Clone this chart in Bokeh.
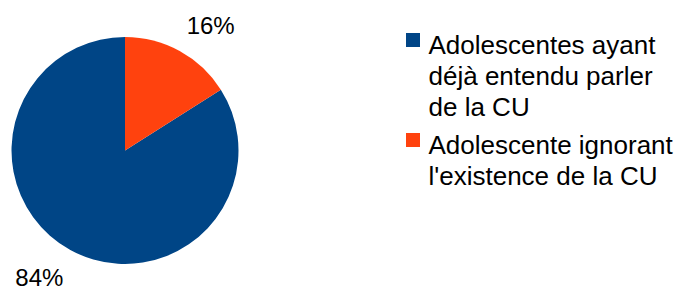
import math
from bokeh.plotting import figure
from bokeh.models import Range1d, ColumnDataSource
from bokeh.embed import file_html
from bokeh.resources import INLINE
from bokeh.core.properties import value

# ---- data ----
categories = ["Adolescentes ayant déjà entendu parler de la CU",
              "Adolescente ignorant l'existence de la CU"]
legend_lines = [["Adolescentes ayant", "déjà entendu parler", "de la CU"],
                ["Adolescente ignorant", "l'existence de la CU"]]
values = [84, 16]
colors = ["#004586", "#ff420e"]
pct_labels = ["84%", "16%"]

# ---- layout ----
W, H = 674, 287
PAGE_H = 287
p = figure(width=W, height=H, output_backend="svg", toolbar_location=None,
           x_range=Range1d(0, W), y_range=Range1d(PAGE_H - H, PAGE_H),
           x_axis_location=None, y_axis_location=None, min_border=0)
p.grid.visible = False
p.outline_line_color = None
p.background_fill_color = "white"
p.border_fill_color = "white"

TXT_FIX = 8  # empirical baseline correction (pixels upward)

def Y(ref_y):
    return PAGE_H - ref_y

cx, cy, r = 124.5, Y(150), 113.5
total = float(sum(values))
starts, ends, mids = [], [], []
a = math.pi / 2
for v in values:
    span = 2 * math.pi * v / total
    starts.append(a)
    ends.append(a + span)
    mids.append(a + span / 2)
    a += span

src = ColumnDataSource(dict(start=starts, end=ends, color=colors, cat=categories))
p.wedge(x=cx, y=cy, radius=r, radius_units="screen", start_angle="start", end_angle="end",
        direction="anticlock", fill_color="color", line_color=None, source=src)

# percentage labels outside the pie
lr = 152
shift = math.radians(5.5)
lx = [cx + lr * math.cos(m - shift) for m in mids]
ly = [cy + lr * math.sin(m - shift) - 9 + TXT_FIX for m in mids]
p.text(x=lx, y=ly, text=pct_labels, text_font=value("Liberation Sans"),
       text_font_size="24px", text_align="center", text_baseline="alphabetic",
       text_color="#000000")

# legend
sq_x, txt_x = 412.5, 428
line_h, entry_gap = 31, 38
sq_y, tx, ty, tt = [], [], [], []
base = 52
for i, lines in enumerate(legend_lines):
    if i > 0:
        base = base + entry_gap
    sq_y.append(Y(base - 12.5))
    for j, ln in enumerate(lines):
        if j > 0:
            base += line_h
        tx.append(txt_x)
        ty.append(Y(base) + TXT_FIX)
        tt.append(ln)

p.rect(x=[sq_x] * len(sq_y), y=sq_y, width=14, height=14, width_units="screen",
       height_units="screen", fill_color=colors, line_color=None)
p.text(x=tx, y=ty, text=tt, text_font=value("Liberation Sans"), text_font_size="26px",
       text_align="left", text_baseline="alphabetic", text_color="#000000")

open("out.html", "w").write(file_html(p, INLINE))
